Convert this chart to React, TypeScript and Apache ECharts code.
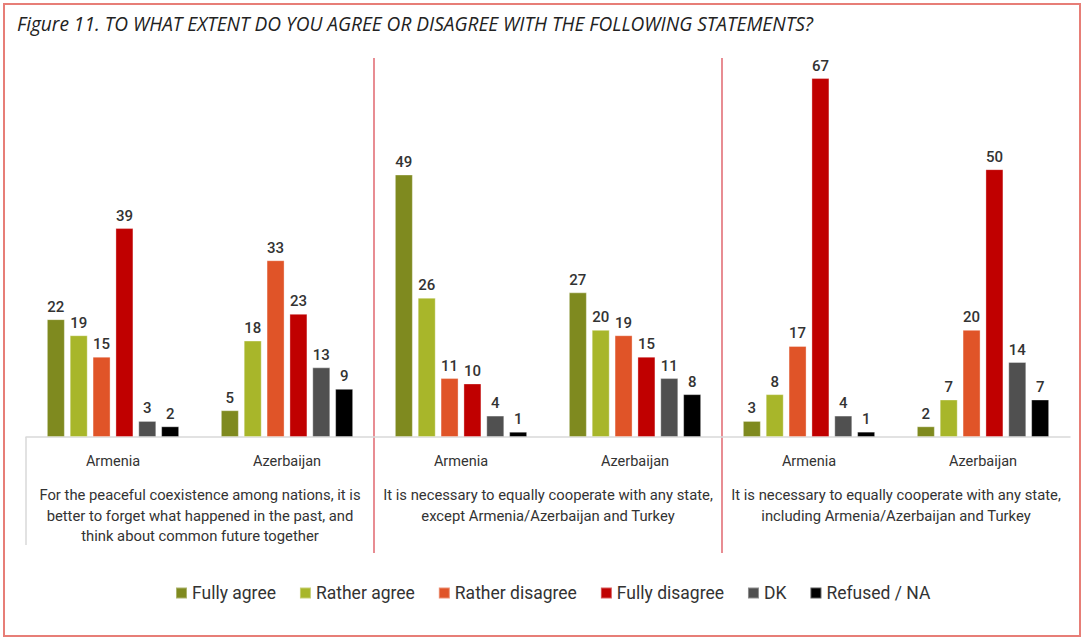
import React, { useEffect, useRef } from "react";
import * as echarts from "echarts";

const TITLE = "Figure 11. TO WHAT EXTENT DO YOU AGREE OR DISAGREE WITH THE FOLLOWING STATEMENTS?";
const countries = ["Armenia", "Azerbaijan", "Armenia", "Azerbaijan", "Armenia", "Azerbaijan"];
const statements = [
  "For the peaceful coexistence among nations, it is\nbetter to forget what happened in the past, and\nthink about common future together",
  "It is necessary to equally cooperate with any state,\nexcept Armenia/Azerbaijan and Turkey",
  "It is necessary to equally cooperate with any state,\nincluding Armenia/Azerbaijan and Turkey",
];
const seriesNames = ["Fully agree", "Rather agree", "Rather disagree", "Fully disagree", "DK", "Refused / NA"];
const seriesColors = ["#7F8A1F", "#A8B62A", "#E05428", "#C00000", "#505050", "#000000"];
const fullyAgree = [22, 5, 49, 27, 3, 2];
const ratherAgree = [19, 18, 26, 20, 8, 7];
const ratherDisagree = [15, 33, 11, 19, 17, 20];
const fullyDisagree = [39, 23, 10, 15, 67, 50];
const dk = [3, 13, 4, 11, 4, 14];
const refused = [2, 9, 1, 8, 1, 7];
const seriesValues = [fullyAgree, ratherAgree, ratherDisagree, fullyDisagree, dk, refused];

export default function App() {
  const ref = useRef<HTMLDivElement>(null);
  useEffect(() => {
    document.body.style.margin = "0";
    const chart = echarts.init(ref.current!, undefined, { renderer: "svg" });
    const option: any = {
      animation: false,
      backgroundColor: "#ffffff",
      textStyle: { fontFamily: "Roboto" },
      title: {
        text: TITLE,
        left: 12,
        top: 9,
        textStyle: { fontFamily: "Open Sans", fontStyle: "italic", fontWeight: "normal", fontSize: 19.1, color: "#222" },
      },
      legend: {
        top: 579,
        left: 170,
        icon: "rect",
        itemWidth: 11,
        itemHeight: 11,
        itemGap: 23,
        textStyle: { fontSize: 17.5, color: "#333", fontFamily: "Roboto" },
        data: seriesNames,
      },
      grid: { left: 26, right: 13, top: 62, bottom: 204 },
      xAxis: [
        {
          type: "category",
          data: countries,
          axisLine: { show: true, lineStyle: { color: "#D9D9D9", width: 1.5 } },
          axisTick: { show: false },
          axisLabel: { margin: 17, fontSize: 14.5, color: "#333", interval: 0 },
        },
        {
          type: "category",
          data: statements,
          position: "bottom",
          axisLine: { show: false },
          axisTick: { show: false },
          axisLabel: { margin: 48, fontSize: 14.8, lineHeight: 20.5, color: "#333", interval: 0 },
        },
      ],
      yAxis: { type: "value", min: 0, max: 70, show: false, splitLine: { show: false } },
      series: seriesNames.map((name, i) => ({
        name,
        type: "bar",
        xAxisIndex: 0,
        data: seriesValues[i],
        barWidth: 18,
        barGap: "27%",
        itemStyle: { color: seriesColors[i], borderColor: "rgba(255,255,255,0.35)", borderWidth: 1 },
        label: { show: true, position: "top", distance: 5, fontSize: 15, fontWeight: 500, color: "#333" },
      })),
    };
    chart.setOption(option);
    const px = (i: number) => chart.convertToPixel({ xAxisIndex: 0 }, i) as number;
    const base = chart.convertToPixel({ yAxisIndex: 0 }, 0) as number;
    const step = px(1) - px(0);
    const leftEdge = px(0) - step / 2;
    const sep1 = (px(1) + px(2)) / 2;
    const sep2 = (px(3) + px(4)) / 2;
    chart.setOption({
      graphic: [
        {
          type: "rect",
          shape: { x: 4, y: 4, width: 1076, height: 632 },
          style: { fill: "none", stroke: "#E77E77", lineWidth: 2 },
          silent: true,
        },
        {
          type: "line",
          shape: { x1: leftEdge, y1: base, x2: leftEdge, y2: base + 108 },
          style: { stroke: "#D9D9D9", lineWidth: 1.5 },
        },
        {
          type: "line",
          shape: { x1: sep1, y1: 58, x2: sep1, y2: 553 },
          style: { stroke: "#D9404A", lineWidth: 1.2 },
        },
        {
          type: "line",
          shape: { x1: sep2, y1: 58, x2: sep2, y2: 553 },
          style: { stroke: "#D9404A", lineWidth: 1.2 },
        },
      ],
    });
    return () => chart.dispose();
  }, []);
  return <div ref={ref} style={{ width: 1083, height: 641 }} />;
}
